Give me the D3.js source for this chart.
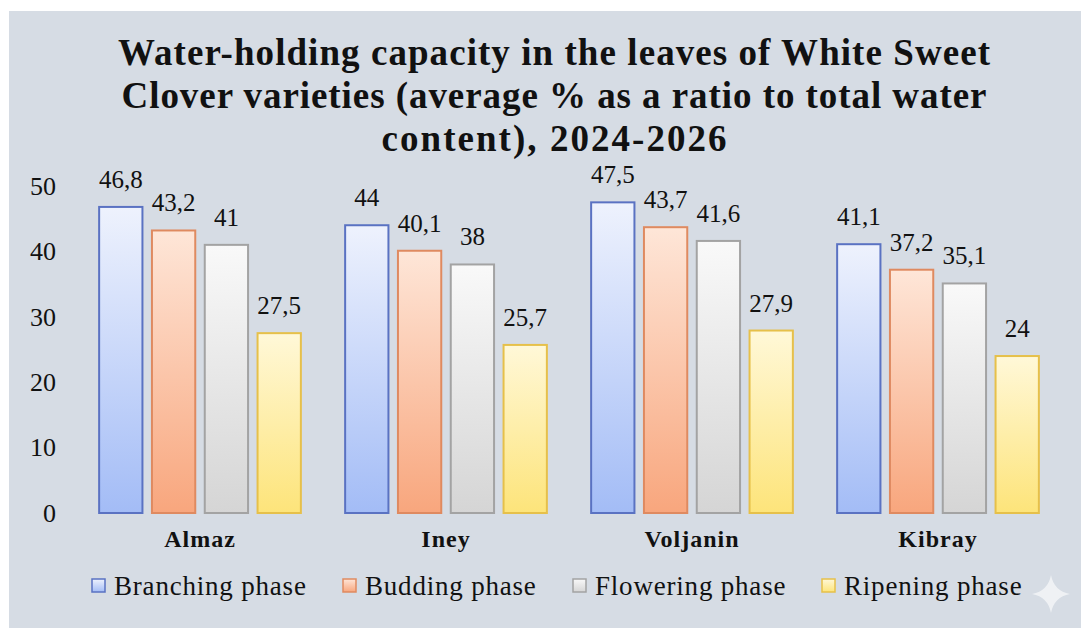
<!DOCTYPE html>
<html>
<head>
<meta charset="utf-8">
<script src="https://cdn.jsdelivr.net/npm/d3@7"></script>
<style>
  html, body { margin: 0; padding: 0; background: #ffffff; }
  svg text { font-family: "Liberation Serif", "Times New Roman", Tinos, "DejaVu Serif", serif; }
</style>
</head>
<body>
<script>
const varieties = ["Almaz", "Iney", "Voljanin", "Kibray"];
const phases = ["Branching phase", "Budding phase", "Flowering phase", "Ripening phase"];
const branching = [46.8, 44, 47.5, 41.1];
const budding = [43.2, 40.1, 43.7, 37.2];
const flowering = [41, 38, 41.6, 35.1];
const ripening = [27.5, 25.7, 27.9, 24];
const yTicks = [0, 10, 20, 30, 40, 50];
const titleLines = [
  "Water-holding capacity in the leaves of White Sweet",
  "Clover varieties (average % as a ratio to total water",
  "content), 2024-2026"
];

const seriesValues = [branching, budding, flowering, ripening];
const colors = [
  { top: "#eef2fd", bottom: "#a3bcf6", stroke: "#5a72c2" },
  { top: "#fee6d8", bottom: "#f8a67d", stroke: "#df8a60" },
  { top: "#f9f9f9", bottom: "#d5d5d5", stroke: "#a3a3a3" },
  { top: "#fff8d8", bottom: "#fde47a", stroke: "#e6c04a" }
];

const W = 1081, H = 628;
const svg = d3.select("body").append("svg")
    .attr("width", W)
    .attr("height", H);

// panel background
svg.append("rect")
    .attr("x", 9).attr("y", 11)
    .attr("width", W - 9).attr("height", H - 11)
    .attr("fill", "#d6dce4");

const defs = svg.append("defs");
colors.forEach((c, i) => {
  const g = defs.append("linearGradient")
      .attr("id", "grad" + i)
      .attr("x1", 0).attr("y1", 0).attr("x2", 0).attr("y2", 1);
  g.append("stop").attr("offset", "0%").attr("stop-color", c.top);
  g.append("stop").attr("offset", "100%").attr("stop-color", c.bottom);
});

// title (widths set to match the reference lines)
const titleWidths = [872, 865, 345];
svg.append("g")
    .selectAll("text")
    .data(titleLines)
    .join("text")
    .attr("x", 554)
    .attr("y", (d, i) => 65 + i * 43)
    .attr("text-anchor", "middle")
    .attr("font-weight", "bold")
    .attr("font-size", 37)
    .attr("fill", "#111")
    .attr("textLength", (d, i) => titleWidths[i])
    .attr("lengthAdjust", "spacing")
    .text(d => d);

const x0 = d3.scaleBand()
    .domain(varieties)
    .range([77, 1061])
    .paddingInner(0.18)
    .paddingOuter(0.09);

const x1 = d3.scaleBand()
    .domain(d3.range(phases.length))
    .range([0, x0.bandwidth()])
    .paddingInner(0.18);

const y = d3.scaleLinear()
    .domain([0, 50])
    .range([513, 186]);

// y axis labels only
const yAxis = svg.append("g")
    .attr("transform", "translate(56,0)")
    .call(d3.axisLeft(y).tickValues(yTicks).tickSize(0).tickPadding(0));
yAxis.select(".domain").remove();
yAxis.selectAll("text")
    .attr("font-size", 26)
    .attr("fill", "#111");

// x axis labels
const xAxis = svg.append("g")
    .attr("transform", "translate(0,513)")
    .call(d3.axisBottom(x0).tickSize(0).tickPadding(0));
xAxis.select(".domain").remove();
xAxis.selectAll("text")
    .attr("dy", null)
    .attr("y", 34)
    .attr("font-size", 24)
    .attr("font-weight", "bold")
    .attr("letter-spacing", 1)
    .attr("fill", "#111");

const groups = svg.append("g")
    .selectAll("g")
    .data(varieties)
    .join("g")
    .attr("transform", d => `translate(${x0(d)},0)`);

groups.selectAll("rect")
    .data((d, vi) => seriesValues.map((vals, si) => ({ si, v: vals[vi] })))
    .join("rect")
    .attr("x", d => x1(d.si))
    .attr("y", d => y(d.v))
    .attr("width", x1.bandwidth())
    .attr("height", d => y(0) - y(d.v))
    .attr("fill", d => `url(#grad${d.si})`)
    .attr("stroke", d => colors[d.si].stroke)
    .attr("stroke-width", 2);

groups.selectAll("text.val")
    .data((d, vi) => seriesValues.map((vals, si) => ({ si, v: vals[vi] })))
    .join("text")
    .attr("class", "val")
    .attr("x", d => x1(d.si) + x1.bandwidth() / 2)
    .attr("y", d => y(d.v) - 19)
    .attr("text-anchor", "middle")
    .attr("font-size", 25)
    .attr("fill", "#111")
    .text(d => String(d.v).replace(".", ","));

// legend
const legendX = [92, 343, 573, 822];
const legend = svg.append("g")
    .selectAll("g")
    .data(phases)
    .join("g")
    .attr("transform", (d, i) => `translate(${legendX[i]},585)`);

legend.append("rect")
    .attr("x", 0).attr("y", -6)
    .attr("width", 13).attr("height", 13)
    .attr("fill", (d, i) => `url(#grad${i})`)
    .attr("stroke", (d, i) => colors[i].stroke)
    .attr("stroke-width", 1.5);

legend.append("text")
    .attr("x", 22)
    .attr("y", 10)
    .attr("font-size", 27)
    .attr("letter-spacing", 0.8)
    .attr("fill", "#111")
    .text(d => d);

// faint sparkle mark in the corner
svg.append("path")
    .attr("transform", "translate(1051,594)")
    .attr("d", "M0,-19 Q3,-3 19,0 Q3,3 0,19 Q-3,3 -19,0 Q-3,-3 0,-19Z")
    .attr("fill", "#ffffff")
    .attr("opacity", 0.6);
</script>
</body>
</html>
